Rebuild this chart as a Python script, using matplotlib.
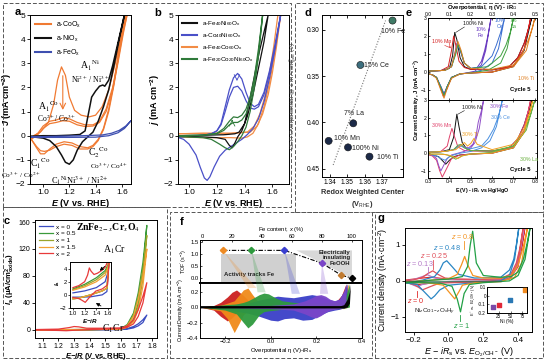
import matplotlib
matplotlib.use('Agg')
import matplotlib.pyplot as plt
from matplotlib.patches import Rectangle, Polygon

plt.rcParams['font.family'] = ['Liberation Sans', 'DejaVu Sans']
plt.rcParams['mathtext.fontset'] = 'custom'
plt.rcParams['mathtext.rm'] = 'Liberation Sans'
plt.rcParams['mathtext.it'] = 'Liberation Sans:italic'
plt.rcParams['mathtext.bf'] = 'Liberation Sans:bold:italic'
plt.rcParams['mathtext.sf'] = 'Liberation Sans:bold'
plt.rcParams['axes.linewidth'] = 0.7

# ---------------- Panel a data ----------------
a_co1_fE = [0.91, 0.98, 1.04, 1.08, 1.11, 1.14, 1.17, 1.20, 1.24, 1.29, 1.35, 1.40, 1.45, 1.50, 1.55, 1.59, 1.62]
a_co1_fj = [-0.05, 0.15, 0.55, 1.3, 2.3, 2.85, 2.5, 1.6, 1.05, 0.85, 0.78, 0.85, 1.2, 1.9, 3.0, 4.1, 5.0]
a_co2_fE = [0.91, 0.96, 1.0, 1.05, 1.10, 1.15, 1.20, 1.26, 1.32, 1.38, 1.43, 1.48, 1.53, 1.57, 1.61, 1.64]
a_co2_fj = [-0.1, 0.1, 0.4, 0.6, 0.65, 0.75, 0.7, 0.55, 0.45, 0.45, 0.6, 1.1, 2.0, 3.1, 4.3, 5.0]
a_co3_fj = [-0.15, 0.05, 0.3, 0.5, 0.55, 0.62, 0.6, 0.45, 0.38, 0.4, 0.55, 1.0, 1.9, 3.0, 4.2, 5.0]
a_co_rE = [1.63, 1.58, 1.54, 1.50, 1.46, 1.42, 1.38, 1.34, 1.28, 1.22, 1.16, 1.10, 1.05, 1.01, 0.98, 0.95, 0.91]
a_co1_rj = [5.0, 3.6, 2.2, 1.1, 0.3, -0.15, -0.4, -0.5, -0.45, -0.3, -0.25, -0.35, -0.55, -0.75, -0.75, -0.5, -0.15]
a_co2_rj = [5.0, 3.5, 2.1, 1.0, 0.25, -0.2, -0.45, -0.55, -0.55, -0.4, -0.35, -0.45, -0.6, -0.65, -0.62, -0.45, -0.15]
a_ni_fE = [0.91, 1.0, 1.1, 1.2, 1.28, 1.32, 1.345, 1.37, 1.40, 1.43, 1.455, 1.47, 1.50, 1.53, 1.56, 1.59, 1.62]
a_ni_fj = [-0.02, 0.0, 0.0, 0.02, 0.05, 0.2, 0.9, 1.6, 1.85, 2.05, 2.1, 2.05, 2.3, 2.9, 3.6, 4.3, 5.0]
a_ni_rE = [1.62, 1.58, 1.54, 1.50, 1.46, 1.42, 1.38, 1.34, 1.30, 1.26, 1.23, 1.20, 1.17, 1.14, 1.10, 1.05, 1.0, 0.91]
a_ni_rj = [5.0, 4.0, 2.9, 1.9, 1.2, 0.6, 0.15, -0.05, -0.25, -0.6, -1.0, -1.18, -1.1, -0.8, -0.45, -0.2, -0.1, -0.04]
a_fe_fE = [0.91, 1.1, 1.3, 1.45, 1.52, 1.58, 1.63, 1.67]
a_fe_fj = [-0.05, -0.02, 0.0, 0.03, 0.1, 0.22, 0.4, 0.62]
a_fe_rE = [1.67, 1.62, 1.57, 1.5, 1.4, 1.2, 1.0, 0.91]
a_fe_rj = [0.62, 0.3, 0.12, 0.0, -0.06, -0.07, -0.07, -0.06]

# ---------------- Panel b data ----------------
b_co_fE = [0.92, 1.0, 1.1, 1.16, 1.2, 1.23, 1.26, 1.29, 1.32, 1.35, 1.38, 1.41, 1.44, 1.47, 1.50, 1.54, 1.58, 1.62, 1.66]
b_co1_fj = [-0.05, -0.02, 0.02, 0.08, 0.2, 0.5, 1.2, 1.9, 2.4, 2.58, 2.35, 1.8, 1.35, 1.2, 1.3, 1.8, 2.7, 3.8, 5.0]
b_co2_fj = [-0.05, -0.02, 0.02, 0.08, 0.2, 0.45, 1.0, 1.6, 2.0, 2.05, 1.85, 1.45, 1.15, 1.1, 1.2, 1.7, 2.6, 3.7, 5.0]
b_co_rE = [1.66, 1.62, 1.58, 1.54, 1.50, 1.46, 1.42, 1.38, 1.34, 1.30, 1.26, 1.22, 1.18, 1.15, 1.13, 1.11, 1.08, 1.05, 1.0, 0.96, 0.92]
b_co_rj = [5.0, 3.6, 2.4, 1.4, 0.7, 0.3, 0.05, -0.15, -0.3, -0.45, -0.6, -0.85, -1.3, -1.7, -1.85, -1.75, -1.3, -0.8, -0.35, -0.15, -0.07]
b_feni_fE = [0.92, 1.1, 1.25, 1.33, 1.36, 1.40, 1.446, 1.475, 1.507, 1.54, 1.57]
b_feni_fj = [0.0, 0.02, 0.04, 0.08, 0.15, 0.5, 1.74, 2.6, 3.5, 4.3, 5.0]
b_feni_rE = [1.57, 1.54, 1.50, 1.46, 1.42, 1.38, 1.35, 1.33, 1.31, 1.29, 1.26, 1.2, 1.1, 0.92]
b_feni_rj = [5.0, 3.9, 2.8, 1.7, 0.8, 0.2, -0.05, -0.3, -0.5, -0.4, -0.15, -0.08, -0.05, -0.03]
b_feco1_fE = [0.92, 1.1, 1.3, 1.42, 1.47, 1.51, 1.55, 1.58, 1.61, 1.64]
b_feco2_fE = [0.92, 1.1, 1.3, 1.44, 1.49, 1.53, 1.57, 1.60, 1.63, 1.66]
b_feco_fj = [0.08, 0.1, 0.1, 0.15, 0.4, 0.9, 1.7, 2.6, 3.7, 5.0]
b_feco_rE = [1.66, 1.62, 1.58, 1.54, 1.50, 1.46, 1.42, 1.38, 1.3, 1.2, 1.1, 0.92]
b_feco_rj = [5.0, 3.5, 2.2, 1.2, 0.5, 0.1, -0.05, -0.1, -0.08, -0.08, -0.08, -0.05]
b_fcn_fE = [0.92, 1.1, 1.2, 1.25, 1.29, 1.32, 1.35, 1.38, 1.41, 1.44, 1.47, 1.50, 1.53]
b_fcn1_fj = [0.0, 0.02, 0.1, 0.3, 0.6, 0.78, 0.75, 0.85, 1.1, 1.6, 2.4, 3.6, 5.0]
b_fcn2_fj = [0.0, 0.02, 0.08, 0.22, 0.45, 0.55, 0.55, 0.65, 0.9, 1.4, 2.2, 3.4, 5.0]
b_fcn_rE = [1.53, 1.50, 1.47, 1.44, 1.41, 1.38, 1.35, 1.32, 1.29, 1.26, 1.22, 1.16, 1.1, 0.92]
b_fcn_rj = [5.0, 3.3, 2.0, 1.0, 0.35, 0.0, -0.25, -0.45, -0.58, -0.5, -0.35, -0.15, -0.08, -0.03]

# ---------------- Panel c data ----------------
c_labels = ['x = 0', 'x = 0.5', 'x = 1', 'x = 1.5', 'x = 2']
c_colors = ['#3b4cc0', '#3a9a3a', '#9aa42a', '#f3a033', '#e83a3a']
c_fE = [1.05, 1.3, 1.5, 1.6, 1.64, 1.68, 1.71, 1.74, 1.765]
c_rE = [1.765, 1.74, 1.71, 1.68, 1.64, 1.6, 1.4, 1.05]
c_x0_f = [0.3, 0.3, 0.5, 1.0, 2.0, 5.0, 9.0, 15.0, 22.0]
c_x0_r = [22.0, 11.0, 6.0, 3.0, 1.2, 0.5, 0.0, 0.0]
c_x05_f = [0.3, 0.5, 1.0, 2.0, 8.0, 25.0, 55.0, 100.0, 155.0]
c_x05_r = [155.0, 85.0, 40.0, 16.0, 5.0, 1.5, 0.3, 0.0]
c_x1_f = [0.3, 0.5, 1.0, 2.0, 7.0, 22.0, 50.0, 90.0, 140.0]
c_x1_r = [140.0, 75.0, 35.0, 14.0, 4.0, 1.2, 0.3, 0.0]
c_x15_f = [0.3, 0.5, 1.0, 2.0, 6.0, 20.0, 45.0, 80.0, 120.0]
c_x15_r = [120.0, 65.0, 30.0, 12.0, 4.0, 1.2, 0.3, 0.0]
c_x2_fE = [1.05, 1.2, 1.27, 1.3, 1.33, 1.38, 1.5, 1.6, 1.64, 1.68, 1.71, 1.74, 1.765]
c_x2_f = [0.5, 1.2, 3.5, 5.0, 4.5, 2.5, 2.5, 3.0, 6.0, 15.0, 30.0, 50.0, 70.0]
c_x2_rE = [1.765, 1.74, 1.71, 1.68, 1.64, 1.6, 1.4, 1.3, 1.25, 1.2, 1.05]
c_x2_r = [70.0, 40.0, 20.0, 9.0, 4.0, 2.0, 0.5, -0.5, -1.2, -0.8, 0.0]
# inset
ci_red_fE = [1.0, 1.1, 1.2, 1.25, 1.28, 1.31, 1.36, 1.42, 1.49, 1.55, 1.59, 1.62]
ci_red_fI = [1.1, 1.4, 2.0, 3.0, 4.1, 3.6, 3.1, 3.3, 3.7, 4.2, 5.0, 5.5]
ci_red_rE = [1.62, 1.59, 1.5, 1.39, 1.29, 1.21, 1.15, 1.10, 1.0]
ci_red_rI = [5.5, 1.5, 0.9, 0.57, -0.3, -1.14, -0.8, -0.57, -0.4]
ci_oth_fE = [1.0, 1.2, 1.4, 1.55, 1.6, 1.62]
ci_grn_fI = [0.9, 1.6, 2.6, 3.7, 4.6, 5.5]
ci_olv_fI = [0.8, 1.4, 2.3, 3.4, 4.4, 5.5]
ci_org_fI = [0.7, 1.2, 2.0, 3.0, 4.2, 5.5]
ci_blu_fI = [0.3, 0.6, 1.1, 2.0, 3.5, 5.5]
ci_oth_rE = [1.62, 1.58, 1.5, 1.3, 1.1, 1.0]
ci_grn_rI = [5.5, 1.0, 0.6, 0.0, -0.5, -0.6]
ci_blu_rI = [5.5, 0.5, 0.0, -0.3, -0.35, -0.35]

# ---------------- Panel d data ----------------
d_labels = ['10% Fe', '15% Ce', '7% La', '10% Mn', '100% Ni', '10% Ti']
d_redox = [1.376, 1.3576, 1.3535, 1.3394, 1.3505, 1.3628]
d_eta = [0.290, 0.338, 0.401, 0.420, 0.427, 0.437]
d_colors = ['#3f7a66', '#3c6e7e', '#1c2a48', '#1c2a48', '#1c2a48', '#1c2a48']
d_trend_x = [1.342, 1.372]
d_trend_y = [0.446, 0.29]

# ---------------- Panel e data (E vs Hg/HgO) ----------------
e_top_names = ['100% Ni', '10% Mn', '10% Fe', '10% Ce', '7% La', '10% Ti']
e_top_colors = ['#111111', '#d42020', '#6a3cc0', '#3a6ed0', '#3fa03f', '#e07f20']
e_top_fE = [
    [0.30, 0.36, 0.40, 0.415, 0.425, 0.435, 0.45, 0.47, 0.50, 0.60, 0.68, 0.72, 0.75, 0.77, 0.785],
    [0.30, 0.36, 0.395, 0.41, 0.42, 0.43, 0.445, 0.47, 0.50, 0.60, 0.68, 0.72, 0.75, 0.77, 0.78],
    [0.30, 0.38, 0.41, 0.425, 0.435, 0.45, 0.47, 0.50, 0.53, 0.55, 0.565, 0.58, 0.595],
    [0.30, 0.38, 0.41, 0.425, 0.44, 0.455, 0.47, 0.50, 0.55, 0.60, 0.62, 0.64, 0.658],
    [0.30, 0.38, 0.41, 0.43, 0.44, 0.455, 0.47, 0.50, 0.58, 0.64, 0.665, 0.685, 0.70],
    [0.30, 0.38, 0.41, 0.425, 0.44, 0.455, 0.47, 0.50, 0.60, 0.70, 0.74, 0.77, 0.79, 0.80],
]
e_top_fj = [
    [0.05, 0.08, 0.2, 0.9, 2.2, 1.8, 0.8, 0.3, 0.15, 0.12, 0.3, 0.8, 1.6, 2.4, 3.0],
    [0.05, 0.08, 0.3, 1.2, 2.0, 1.5, 0.6, 0.25, 0.15, 0.12, 0.3, 0.8, 1.6, 2.4, 3.0],
    [0.05, 0.1, 0.3, 1.0, 1.6, 1.2, 0.5, 0.2, 0.25, 0.6, 1.2, 2.0, 3.0],
    [0.05, 0.1, 0.3, 0.9, 1.5, 1.1, 0.5, 0.2, 0.3, 0.9, 1.5, 2.2, 3.0],
    [0.05, 0.1, 0.3, 1.0, 1.55, 1.1, 0.5, 0.2, 0.3, 0.9, 1.5, 2.2, 3.0],
    [0.05, 0.1, 0.3, 1.0, 1.7, 1.2, 0.5, 0.2, 0.15, 0.4, 1.0, 1.8, 2.5, 3.0],
]
e_top_rE = [
    [0.785, 0.75, 0.70, 0.60, 0.50, 0.45, 0.41, 0.39, 0.375, 0.36, 0.34, 0.32, 0.30],
    [0.78, 0.75, 0.70, 0.60, 0.50, 0.45, 0.41, 0.39, 0.372, 0.36, 0.34, 0.32, 0.30],
    [0.595, 0.57, 0.55, 0.52, 0.48, 0.45, 0.41, 0.39, 0.375, 0.36, 0.34, 0.32, 0.30],
    [0.658, 0.63, 0.60, 0.55, 0.50, 0.45, 0.41, 0.39, 0.375, 0.36, 0.34, 0.32, 0.30],
    [0.70, 0.67, 0.64, 0.58, 0.50, 0.45, 0.41, 0.39, 0.375, 0.36, 0.34, 0.32, 0.30],
    [0.80, 0.76, 0.70, 0.60, 0.50, 0.45, 0.41, 0.39, 0.375, 0.36, 0.34, 0.32, 0.30],
]
e_top_rj = [
    [3.0, 1.2, 0.3, 0.0, -0.05, -0.1, -0.3, -0.8, -1.3, -0.9, -0.3, -0.15, -0.1],
    [3.0, 1.3, 0.35, 0.0, -0.05, -0.1, -0.3, -0.9, -1.35, -0.9, -0.3, -0.15, -0.1],
    [3.0, 1.2, 0.4, 0.05, -0.05, -0.1, -0.3, -0.8, -1.2, -0.8, -0.3, -0.15, -0.1],
    [3.0, 1.3, 0.5, 0.1, -0.05, -0.1, -0.3, -0.8, -1.25, -0.8, -0.3, -0.15, -0.1],
    [3.0, 1.3, 0.5, 0.1, -0.05, -0.1, -0.3, -0.8, -1.3, -0.85, -0.3, -0.15, -0.1],
    [3.0, 1.2, 0.3, 0.0, -0.05, -0.1, -0.35, -0.9, -1.45, -1.0, -0.35, -0.15, -0.1],
]
e_bot_names = ['100% Ni', '30% Mn', '30% Fe', '30% Ce', '30% La', '30% Ti']
e_bot_colors = ['#111111', '#e0406a', '#9050c8', '#4a90e0', '#6ab040', '#f0a020']
e_bot_fE = [
    [0.30, 0.36, 0.40, 0.42, 0.435, 0.445, 0.46, 0.48, 0.50, 0.60, 0.68, 0.72, 0.75, 0.77, 0.785],
    [0.30, 0.36, 0.39, 0.40, 0.412, 0.425, 0.44, 0.47, 0.50, 0.60, 0.68, 0.72, 0.75, 0.77, 0.78],
    [0.30, 0.38, 0.42, 0.44, 0.455, 0.47, 0.49, 0.51, 0.525, 0.535, 0.55, 0.56],
    [0.30, 0.38, 0.42, 0.44, 0.455, 0.47, 0.50, 0.55, 0.58, 0.607, 0.63, 0.648],
    [0.30, 0.38, 0.42, 0.44, 0.455, 0.47, 0.50, 0.60, 0.70, 0.75, 0.78, 0.80],
    [0.30, 0.38, 0.43, 0.45, 0.47, 0.485, 0.50, 0.515, 0.53, 0.60, 0.70, 0.75, 0.78, 0.79],
]
e_bot_fj = [
    [0.05, 0.08, 0.2, 0.9, 2.2, 1.5, 0.6, 0.25, 0.15, 0.12, 0.3, 0.8, 1.6, 2.4, 3.0],
    [0.05, 0.1, 0.4, 0.9, 1.4, 0.9, 0.35, 0.15, 0.12, 0.12, 0.3, 0.8, 1.6, 2.4, 3.0],
    [0.05, 0.1, 0.2, 0.4, 0.45, 0.35, 0.3, 0.5, 1.0, 1.74, 2.4, 3.0],
    [0.05, 0.1, 0.2, 0.35, 0.4, 0.3, 0.25, 0.4, 0.8, 1.36, 2.1, 3.0],
    [0.05, 0.1, 0.2, 0.45, 0.5, 0.3, 0.15, 0.12, 0.4, 1.2, 2.2, 3.0],
    [0.05, 0.1, 0.2, 0.4, 0.6, 0.4, 0.55, 0.83, 0.5, 0.2, 0.5, 1.4, 2.4, 3.0],
]
e_bot_rE = [
    [0.785, 0.75, 0.70, 0.60, 0.50, 0.45, 0.42, 0.40, 0.383, 0.37, 0.35, 0.32, 0.30],
    [0.78, 0.75, 0.70, 0.60, 0.50, 0.45, 0.41, 0.39, 0.367, 0.355, 0.34, 0.32, 0.30],
    [0.56, 0.54, 0.52, 0.50, 0.47, 0.44, 0.41, 0.39, 0.36, 0.35, 0.34, 0.32, 0.30],
    [0.648, 0.62, 0.59, 0.55, 0.50, 0.45, 0.42, 0.40, 0.38, 0.36, 0.34, 0.32, 0.30],
    [0.80, 0.76, 0.70, 0.60, 0.50, 0.46, 0.43, 0.41, 0.39, 0.37, 0.35, 0.32, 0.30],
    [0.79, 0.75, 0.70, 0.60, 0.50, 0.46, 0.44, 0.42, 0.40, 0.38, 0.35, 0.32, 0.30],
]
e_bot_rj = [
    [3.0, 1.2, 0.3, 0.0, -0.05, -0.1, -0.2, -0.4, -0.62, -0.45, -0.2, -0.1, -0.05],
    [3.0, 1.3, 0.35, 0.0, -0.05, -0.1, -0.3, -0.8, -1.35, -1.0, -0.4, -0.15, -0.1],
    [3.0, 1.4, 0.6, 0.3, 0.1, 0.0, -0.1, -0.3, -1.0, -0.7, -0.3, -0.1, -0.05],
    [3.0, 1.5, 0.7, 0.3, 0.1, 0.0, -0.1, -0.2, -0.4, -0.3, -0.15, -0.1, -0.05],
    [3.0, 1.3, 0.4, 0.05, -0.05, -0.15, -0.34, -0.2, -0.1, -0.05, -0.05, -0.05, -0.05],
    [3.0, 1.2, 0.3, 0.0, -0.05, -0.15, -0.3, -0.2, -0.12, -0.08, -0.05, -0.05, -0.05],
]

# ---------------- Panel f data ----------------
f_fe = [14, 33, 55, 80, 93, 100]
f_tof = [1.15, 1.15, 1.15, 0.62, 0.12, 0.0]
f_colors = ['#ee8a22', '#2e9a3e', '#3a3fd0', '#7a45c8', '#c07a30', '#000000']
f_ray_eta = [-0.08, -0.04, 0.11, 0.234]
f_ray_j = [0.245, 0.19, 0.17, 0.17]
f_shapes = [
    ('#cc1f1f',
     [-0.31, -0.25, -0.22, -0.19, -0.17, -0.15, -0.12, -0.09, -0.05, 0.0, 0.1, 0.2, 0.28, 0.31, 0.33],
     [0.0, 0.02, 0.06, 0.13, 0.19, 0.22, 0.15, 0.06, 0.03, 0.02, 0.02, 0.03, 0.05, 0.15, 0.3],
     [0.0, -0.04, -0.12, -0.18, -0.14, -0.08, -0.04, -0.03, -0.02, -0.02, -0.02, -0.02, -0.02, -0.02, 0.0]),
    ('#f08a1a',
     [-0.31, -0.22, -0.19, -0.16, -0.14, -0.12, -0.10, -0.08, -0.05, 0.0, 0.1, 0.2, 0.29, 0.32, 0.34],
     [0.0, 0.02, 0.05, 0.08, 0.15, 0.22, 0.245, 0.16, 0.05, 0.03, 0.03, 0.03, 0.05, 0.15, 0.3],
     [0.0, -0.05, -0.15, -0.33, -0.22, -0.1, -0.05, -0.04, -0.03, -0.02, -0.02, -0.02, -0.02, -0.02, 0.0]),
    ('#3a3fc8',
     [-0.31, -0.2, -0.1, -0.05, 0.0, 0.03, 0.06, 0.1, 0.14, 0.18, 0.22, 0.25, 0.28, 0.3, 0.32, 0.335],
     [0.0, 0.02, 0.05, 0.09, 0.12, 0.14, 0.13, 0.12, 0.14, 0.16, 0.14, 0.1, 0.08, 0.1, 0.2, 0.3],
     [0.0, -0.03, -0.08, -0.12, -0.17, -0.18, -0.15, -0.14, -0.17, -0.16, -0.1, -0.06, -0.04, -0.03, -0.01, 0.0]),
    ('#2e9a3e',
     [-0.31, -0.2, -0.15, -0.12, -0.1, -0.08, -0.05, -0.03, -0.01, 0.02, 0.05, 0.1, 0.2, 0.3, 0.33, 0.345],
     [0.0, 0.03, 0.04, 0.06, 0.08, 0.11, 0.16, 0.18, 0.17, 0.12, 0.08, 0.06, 0.05, 0.06, 0.15, 0.3],
     [0.0, -0.04, -0.09, -0.2, -0.27, -0.22, -0.1, -0.06, -0.05, -0.04, -0.03, -0.03, -0.03, -0.02, -0.01, 0.0]),
    ('#7a45c8',
     [-0.31, 0.0, 0.1, 0.15, 0.18, 0.2, 0.22, 0.24, 0.26, 0.28, 0.3, 0.32, 0.33],
     [0.0, 0.02, 0.04, 0.08, 0.12, 0.15, 0.16, 0.14, 0.1, 0.08, 0.1, 0.2, 0.3],
     [0.0, -0.02, -0.04, -0.09, -0.13, -0.14, -0.11, -0.07, -0.04, -0.03, -0.02, -0.01, 0.0]),
    ('#000000',
     [-0.31, 0.0, 0.3, 0.32, 0.335, 0.345, 0.35],
     [0.012, 0.012, 0.012, 0.03, 0.1, 0.2, 0.3],
     [-0.012, -0.012, -0.012, -0.012, 0.0, 0.05, 0.3]),
]

# ---------------- Panel g data ----------------
g_labels = ['z = 0', 'z = 0.13', 'z = 0.25', 'z = 0.48', 'z = 0.8', 'z = 1']
g_colors = ['#e02828', '#b57ac8', '#e0505a', '#2a86c4', '#f39320', '#22a045']
g_fx = [
    [-0.25, -0.15, -0.1, 0.0, 0.2, 0.3, 0.36, 0.39, 0.42, 0.44],
    [-0.25, -0.2, -0.15, -0.12, -0.09, -0.05, 0.05, 0.2, 0.3, 0.36, 0.39, 0.41, 0.435],
    [-0.25, -0.2, -0.15, -0.12, -0.09, -0.06, -0.02, 0.05, 0.2, 0.3, 0.36, 0.39, 0.41, 0.43],
    [-0.25, -0.15, -0.08, -0.05, -0.03, -0.01, 0.02, 0.06, 0.15, 0.3, 0.35, 0.375, 0.39, 0.405],
    [-0.25, -0.1, 0.0, 0.05, 0.075, 0.093, 0.11, 0.14, 0.2, 0.3, 0.36, 0.4, 0.43, 0.455],
    [-0.25, -0.1, 0.0, 0.08, 0.11, 0.125, 0.139, 0.16, 0.2, 0.3, 0.36, 0.40, 0.43, 0.45, 0.47],
]
g_fj = [
    [0.02, 0.08, 0.1, 0.05, 0.03, 0.05, 0.15, 0.4, 0.9, 1.5],
    [0.0, 0.04, 0.12, 0.17, 0.1, 0.05, 0.03, 0.03, 0.05, 0.18, 0.45, 0.85, 1.5],
    [0.0, 0.03, 0.1, 0.2, 0.28, 0.18, 0.08, 0.05, 0.04, 0.06, 0.2, 0.5, 0.9, 1.5],
    [-0.05, 0.02, 0.12, 0.3, 0.5, 0.56, 0.4, 0.18, 0.08, 0.1, 0.3, 0.6, 1.0, 1.5],
    [-0.03, 0.02, 0.06, 0.18, 0.45, 0.68, 0.45, 0.15, 0.08, 0.08, 0.15, 0.45, 0.95, 1.5],
    [-0.05, 0.02, 0.05, 0.12, 0.4, 1.0, 1.38, 0.5, 0.15, 0.1, 0.12, 0.25, 0.6, 1.0, 1.5],
]
g_rx = [
    [0.44, 0.40, 0.35, 0.2, 0.0, -0.1, -0.17, -0.25],
    [0.435, 0.40, 0.36, 0.3, 0.1, -0.1, -0.15, -0.18, -0.22, -0.25],
    [0.43, 0.40, 0.36, 0.3, 0.1, -0.05, -0.1, -0.15, -0.19, -0.25],
    [0.405, 0.38, 0.35, 0.3, 0.15, 0.0, -0.05, -0.08, -0.10, -0.13, -0.18, -0.25],
    [0.455, 0.42, 0.38, 0.3, 0.15, 0.08, 0.06, 0.036, 0.01, -0.03, -0.12, -0.25],
    [0.47, 0.44, 0.40, 0.35, 0.2, 0.12, 0.09, 0.069, 0.05, 0.02, -0.05, -0.15, -0.25],
]
g_rj = [
    [1.5, 0.4, 0.05, -0.02, -0.04, -0.06, -0.1, -0.05],
    [1.5, 0.45, 0.1, 0.0, -0.03, -0.05, -0.1, -0.16, -0.08, -0.03],
    [1.5, 0.5, 0.1, 0.0, -0.04, -0.06, -0.15, -0.25, -0.12, -0.03],
    [1.5, 0.6, 0.15, 0.0, -0.05, -0.12, -0.25, -0.42, -0.5, -0.35, -0.1, -0.05],
    [1.5, 0.5, 0.1, -0.02, -0.05, -0.12, -0.3, -0.5, -0.35, -0.12, -0.05, -0.03],
    [1.5, 0.6, 0.15, 0.0, -0.05, -0.1, -0.35, -0.86, -0.5, -0.15, -0.06, -0.05, -0.05],
]
g_ins_ni = [13, 25, 48, 80]
g_ins_e0 = [-0.13, -0.11, -0.05, 0.07]
g_ins_colors = ['#7a4aa8', '#e02838', '#2a78b4', '#f08a20']

# ================= Figure =================
W, H = 546, 361
fig = plt.figure(figsize=(W / 100, H / 100), dpi=100)


def add_ax(x0, y0, x1, y1):
    return fig.add_axes([x0 / W, 1 - y1 / H, (x1 - x0) / W, (y1 - y0) / H])


def ftext(x, y, s, **kw):
    fig.text(x / W, 1 - y / H, s, **kw)


def cv(ax, fx, fy, rx, ry, color, lw=0.9, **kw):
    ax.plot(list(fx) + list(rx), list(fy) + list(ry), color=color, lw=lw, **kw)


# dashed boxes
for (x0, y0, x1, y1) in [(3, 3, 291, 207), (295, 3, 543, 212), (3, 207, 167, 358),
                         (170, 212, 372, 358), (375, 212, 543, 358)]:
    fig.patches.append(Rectangle((x0 / W, 1 - y1 / H), (x1 - x0) / W, (y1 - y0) / H,
                                 transform=fig.transFigure, fill=False, ls=(0, (4, 2)),
                                 lw=0.7, ec='#555555'))

serif = dict(family='Liberation Serif', math_fontfamily='stix')

# ---------- a ----------
ax = add_ax(30, 15, 131, 184)
co = '#f07a32'
cv(ax, a_co1_fE, a_co1_fj, a_co_rE, a_co1_rj, co)
cv(ax, a_co2_fE, a_co2_fj, a_co_rE, a_co2_rj, co)
ax.plot(a_co2_fE, a_co3_fj, color=co, lw=0.9)
cv(ax, a_ni_fE, a_ni_fj, a_ni_rE, a_ni_rj, '#111111', lw=1.1)
cv(ax, a_fe_fE, a_fe_fj, a_fe_rE, a_fe_rj, '#3e4fb0')
ax.plot([], [], color=co, label=r'a-CoO$_\mathrm{x}$')
ax.plot([], [], color='#111111', label=r'a-NiO$_\mathrm{x}$')
ax.plot([], [], color='#3e4fb0', label=r'a-FeO$_\mathrm{x}$')
ax.legend(loc='upper left', frameon=False, fontsize=5, handlelength=2.3, labelspacing=0.55,
          borderaxespad=0.3)
ax.annotate('', xy=(1.15, 0.95), xytext=(1.15, 2.6),
            arrowprops=dict(arrowstyle='->', color=co, lw=0.8))
ax.set_xlim(0.9, 1.67)
ax.set_ylim(-2, 5)
ax.set_xticks([1.0, 1.2, 1.4, 1.6])
ax.set_yticks(range(-2, 6))
ax.tick_params(labelsize=6, length=2, width=0.6, pad=1.5)
ax.set_xlabel(r'$\mathbf{E}$ (V vs. RHE)', fontsize=6.5, fontweight='bold', labelpad=1)
ax.set_ylabel(r'$\mathbf{J}$ (mA $\mathsf{cm^{-2}}$)', fontsize=6.5, fontweight='bold', labelpad=1)
ax.text(1.36, 2.75, r'A$_1$$^{\rm Ni}$', fontsize=7, ha='center', **serif)
ax.text(1.36, 2.2, r'Ni$^{2+}$ / Ni$^{3+}$', fontsize=5.5, ha='center', **serif)
ax.text(1.04, 1.05, r'A$_1$$^{\rm Co}$', fontsize=7, ha='center', **serif)
ax.text(1.1, 0.55, r'Co$^{2+}$/ Co$^{3+}$', fontsize=5.5, ha='center', **serif)
ax.text(0.98, -1.3, r'C$_1$$^{\rm Co}$', fontsize=7, ha='center', **serif)
ax.text(0.83, -1.75, r'Co$^{3+}$ / Co$^{2+}$', fontsize=5.3, ha='center', clip_on=False, **serif)
ax.text(1.42, -0.85, r'C$_2$$^{\rm Co}$', fontsize=7, ha='center', **serif)
ax.text(1.5, -1.38, r'Co$^{3+}$/ Co$^{4+}$', fontsize=5.3, ha='center', **serif)
ax.text(1.28, -2.0, r'C$_1$$^{\rm Ni}$Ni$^{3+}$ / Ni$^{2+}$', fontsize=6, ha='center', **serif)

# ---------- b ----------
ax = add_ax(178, 15, 289, 184)
cv(ax, b_feco1_fE, b_feco_fj, b_feco_rE, b_feco_rj, '#f28c45')
ax.plot(b_feco2_fE, b_feco_fj, color='#f28c45', lw=0.9)
cv(ax, b_co_fE, b_co1_fj, b_co_rE, b_co_rj, '#4a50c8')
ax.plot(b_co_fE, b_co2_fj, color='#4a50c8', lw=0.9)
cv(ax, b_feni_fE, b_feni_fj, b_feni_rE, b_feni_rj, '#111111')
cv(ax, b_fcn_fE, b_fcn1_fj, b_fcn_rE, b_fcn_rj, '#2f7a3a')
ax.plot(b_fcn_fE, b_fcn2_fj, color='#2f7a3a', lw=0.9)
ax.plot([], [], color='#111111', label=r'a-Fe$_{40}$Ni$_{60}$O$_\mathrm{x}$')
ax.plot([], [], color='#4a50c8', label=r'a-Co$_{40}$Ni$_{60}$O$_\mathrm{x}$')
ax.plot([], [], color='#f28c45', label=r'a-Fe$_{40}$Co$_{60}$O$_\mathrm{x}$')
ax.plot([], [], color='#2f7a3a', label=r'a-Fe$_{20}$Co$_{20}$Ni$_{60}$O$_\mathrm{x}$')
ax.legend(loc='upper left', frameon=False, fontsize=4.6, handlelength=2.3, labelspacing=0.45,
          borderaxespad=0.3)
ax.annotate('', xy=(1.345, 2.15), xytext=(1.345, 2.5),
            arrowprops=dict(arrowstyle='->', color='#4a50c8', lw=0.6))
ax.annotate('', xy=(1.31, 0.78), xytext=(1.31, 0.5),
            arrowprops=dict(arrowstyle='->', color='#2f7a3a', lw=0.6))
ax.set_xlim(0.92, 1.72)
ax.set_ylim(-2, 5)
ax.set_xticks([1.0, 1.2, 1.4, 1.6])
ax.set_yticks(range(-2, 6))
ax.tick_params(labelsize=6, length=2, width=0.6, pad=1.5)
ax.set_xlabel(r'$\mathbf{E}$ (V vs. RHE)', fontsize=6.5, fontweight='bold', labelpad=1)
ax.set_ylabel(r'$\mathbf{j}$ (mA $\mathsf{cm^{-2}}$)', fontsize=6.5, fontweight='bold', labelpad=1)

# ---------- c ----------
ax = add_ax(35, 220, 157, 338)
c_f = [c_x0_f, c_x05_f, c_x1_f, c_x15_f]
c_r = [c_x0_r, c_x05_r, c_x1_r, c_x15_r]
for i in range(4):
    cv(ax, c_fE, c_f[i], c_rE, c_r[i], c_colors[i], label=c_labels[i])
cv(ax, c_x2_fE, c_x2_f, c_x2_rE, c_x2_r, c_colors[4], label=c_labels[4])
ax.legend(loc='upper left', frameon=False, fontsize=4.6, handlelength=2.2, labelspacing=0.2,
          borderaxespad=0.25, handletextpad=0.5)
ax.set_xlim(1.05, 1.83)
ax.set_ylim(-12, 163)
ax.set_xticks([1.1, 1.2, 1.3, 1.4, 1.5, 1.6, 1.7, 1.8])
ax.set_yticks([0, 40, 80, 120, 160])
ax.tick_params(labelsize=5, length=2, width=0.6, pad=1.5)
ax.set_xlabel(r'$\mathbf{E}$$\mathbf{-iR}$ (V vs. RHE)', fontsize=5.5, fontweight='bold', labelpad=1)
ax.set_ylabel(r'$\mathbf{I}_\mathsf{a}$ (μA/$\mathsf{cm^2_{oxide}}$)', fontsize=5.5, fontweight='bold',
              labelpad=1)
ax.text(1.72, 148, r'ZnFe$_{2-x}$Cr$_x$O$_4$', fontsize=7, fontweight='bold', ha='right', **serif)
ax.text(1.56, 115, r'A$_1$Cr', fontsize=7, ha='center', **serif)
ax.text(1.55, -2, r'C$_1$Cr', fontsize=7, ha='center', **serif)
axi = add_ax(70, 262, 111, 308)
cv(axi, ci_oth_fE, ci_blu_fI, ci_oth_rE, ci_blu_rI, c_colors[0])
cv(axi, ci_oth_fE, ci_grn_fI, ci_oth_rE, ci_grn_rI, c_colors[1])
cv(axi, ci_oth_fE, ci_olv_fI, ci_oth_rE, ci_grn_rI, c_colors[2])
cv(axi, ci_oth_fE, ci_org_fI, ci_oth_rE, ci_grn_rI, c_colors[3])
cv(axi, ci_red_fE, ci_red_fI, ci_red_rE, ci_red_rI, c_colors[4])
axi.set_xlim(0.95, 1.65)
axi.set_ylim(-2, 5)
axi.set_xticks([1.0, 1.2, 1.4, 1.6])
axi.set_yticks([-2, 0, 2, 4])
axi.tick_params(labelsize=4.2, length=1.5, width=0.5, pad=0.8)
axi.set_xlabel(r'$\mathbf{E}$$\mathbf{-iR}$', fontsize=4.5, fontweight='bold', labelpad=0.5)
axi.set_ylabel(r'$\mathbf{I}_\mathsf{a}$', fontsize=4.2, labelpad=0)
axi.yaxis.set_label_coords(-0.2, 0.55)
axi.annotate('', xy=(1.42, 3.4), xytext=(1.58, 4.6),
             arrowprops=dict(arrowstyle='-|>', color='k', lw=0.6, mutation_scale=5))
axi.annotate('', xy=(1.35, -1.05), xytext=(1.52, -1.9),
             arrowprops=dict(arrowstyle='-|>', color='k', lw=0.6, mutation_scale=5),
             annotation_clip=False)

# ---------- d ----------
ax = add_ax(322, 15, 403, 177)
ax.plot(d_trend_x, d_trend_y, ls=(0, (1, 1.5)), color='#777777', lw=0.8)
ax.scatter(d_redox, d_eta, s=26, c=d_colors, edgecolors='#111111', linewidths=0.4, zorder=3)
d_off = [(-0.0065, 0.012), (0.002, 0.001), (-0.0053, -0.011), (0.003, -0.003), (0.002, 0.001),
         (0.0042, 0.001)]
for lab, x, y, (dx, dy) in zip(d_labels, d_redox, d_eta, d_off):
    ax.text(x + dx, y + dy, lab, fontsize=5, va='center', ha='left', color='#222222')
ax.set_xlim(1.3356, 1.382)
ax.set_ylim(0.459, 0.284)
ax.set_xticks([1.34, 1.35, 1.36, 1.37])
ax.set_yticks([0.30, 0.35, 0.40, 0.45])
ax.set_yticklabels(['0.30', '0.35', '0.40', '0.45'])
ax.tick_params(labelsize=4.8, length=2, width=0.6, pad=1.5, direction='in', top=True, right=True)
ax.set_xlabel('Redox Weighted Center\n(V$_\\mathrm{RHE}$)', fontsize=5.3, fontweight='bold',
              color='#333333', labelpad=2, linespacing=1.4)
ax.set_ylabel(r'OER Overpotential @ 1 mA/cm$^2_\mathrm{geo}$ (V)', fontsize=4.6, color='#333333')
ax.yaxis.set_label_coords(-0.27, 0.5)

# ---------- e ----------
axt = add_ax(428, 18, 537, 100)
axb = add_ax(428, 100, 537, 178)
for i in range(6):
    cv(axt, e_top_fE[i], e_top_fj[i], e_top_rE[i], e_top_rj[i], e_top_colors[i], lw=0.7)
    cv(axb, e_bot_fE[i], e_bot_fj[i], e_bot_rE[i], e_bot_rj[i], e_bot_colors[i], lw=0.7)
for a_ in (axt, axb):
    a_.set_xlim(0.3, 0.81)
    a_.set_xticks([0.3, 0.4, 0.5, 0.6, 0.7, 0.8])
    a_.tick_params(labelsize=3.6, length=1.5, width=0.5, pad=1, direction='in', top=True, right=True)
    a_.set_yticks([-1, 0, 1, 2, 3])
axt.set_ylim(-1.55, 3.0)
axb.set_ylim(-1.4, 3.0)
axt.tick_params(labelbottom=False)
sec = axt.secondary_xaxis('top', functions=(lambda x: x - 0.3, lambda x: x + 0.3))
sec.set_xticks([0.0, 0.1, 0.2, 0.3, 0.4, 0.5])
sec.tick_params(labelsize=3.6, length=0, pad=0.8)
sec.set_xlabel(r'Overpotential, η (V) - iR$_\Omega$', fontsize=4.2, fontweight='bold', labelpad=2)
axb.set_xlabel(r'E (V) - iR$_\mathrm{u}$ vs Hg/HgO', fontsize=3.8, fontweight='bold', labelpad=1)
ftext(417, 100, r'Current Density, J (mA cm$^{-2}$)', fontsize=4.2, fontweight='bold', rotation=90,
      ha='center', va='center')
fs = 3.8
axt.text(0.465, 2.6, '100% Ni', fontsize=fs, color='#111111')
axt.plot([0.47, 0.43], [2.5, 2.2], color='#111111', lw=0.4)
axt.text(0.318, 1.6, '10% Mn', fontsize=fs, color='#d42020')
axt.annotate('', xy=(0.415, 1.2), xytext=(0.39, 1.55), arrowprops=dict(arrowstyle='->', lw=0.4,
                                                                        color='#d42020'))
axt.text(0.545, 1.95, '10%\nFe', fontsize=fs, color='#6a3cc0', ha='center', linespacing=1.3)
axt.text(0.635, 2.45, '10%\nCe', fontsize=fs, color='#3a6ed0', ha='center', linespacing=1.3)
axt.text(0.7, 2.45, '7%\nLa', fontsize=fs, color='#3fa03f', ha='center', linespacing=1.3)
axt.text(0.72, -0.45, '10% Ti', fontsize=fs, color='#e07f20')
axt.text(0.685, -1.05, 'Cycle 5', fontsize=4.2, fontweight='bold')
axb.text(0.46, 2.5, '100% Ni', fontsize=fs, color='#111111')
axb.plot([0.47, 0.44], [2.4, 2.2], color='#111111', lw=0.4)
axb.text(0.318, 1.45, '30% Mn', fontsize=fs, color='#e0406a')
axb.text(0.46, 0.95, '30% Ti', fontsize=fs, color='#f0a020')
axb.text(0.59, 2.55, '30% Fe', fontsize=fs, color='#9050c8')
axb.text(0.595, 1.95, '30% Ce', fontsize=fs, color='#4a90e0')
axb.text(0.73, -0.45, '30% La', fontsize=fs, color='#6ab040')
axb.text(0.685, -1.0, 'Cycle 5', fontsize=4.2, fontweight='bold')

# ---------- f ----------
aft = add_ax(200, 240, 362, 283)
afb = add_ax(200, 283, 362, 338)
aft.add_patch(Rectangle((13, -0.15), 50, 1.15, color='#d0d0d0', lw=0, zorder=0))
aft.add_patch(Polygon([(63, 1.15), (100, 1.15), (100, 0.0), (80, 0.62)], closed=True,
                      color='#d8d8d8', lw=0, zorder=0))
aft.plot(f_fe, f_tof, color='k', ls=(0, (4, 1.5, 1, 1.5)), lw=0.8, zorder=2)
for x, y, c in zip(f_fe, f_tof, f_colors):
    aft.plot([x], [y], marker='D', ms=3.2, color=c, zorder=3)
    aft.plot([x - 2, x + 2], [y, y], color=c, lw=0.6, zorder=3)
aft.text(15, 0.08, 'Activity tracks Fe', fontsize=4.3, fontweight='bold', color='#222222')
aft.text(99, 0.5, 'Electrically\ninsulating\nFeOOH', fontsize=4.3, fontweight='bold', ha='right',
         va='bottom', color='#222222', linespacing=1.15)
aft.set_xlim(-1.3, 106.7)
aft.set_ylim(-0.2, 1.58)
aft.xaxis.tick_top()
aft.xaxis.set_label_position('top')
aft.set_xticks([0, 20, 40, 60, 80, 100])
aft.set_yticks([0.0, 0.5, 1.0, 1.5])
aft.tick_params(labelsize=4.2, length=1.5, width=0.5, pad=0.8, direction='in')
aft.set_xlabel(r'Fe content, $x$ (%)', fontsize=4.2, labelpad=2)
aft.set_ylabel(r'TOF$^{\prime}$ (s$^{-1}$)', fontsize=3.8, labelpad=1)
aft.spines['bottom'].set_linewidth(1.4)
for col, xs, up, lo in f_shapes:
    afb.fill_between(xs, lo, up, color=col, lw=0, alpha=0.95)
afb.plot([-0.31, 0.32], [0, 0], color='k', lw=1.2)
afb.set_xlim(-0.31, 0.40)
afb.set_ylim(-0.4, 0.31)
afb.set_xticks([-0.2, 0.0, 0.2, 0.4])
afb.set_yticks([-0.4, -0.2, 0.0, 0.2])
afb.tick_params(labelsize=4.2, length=1.5, width=0.5, pad=1, direction='in')
afb.set_xlabel(r'Overpotential η (V)-iR$_\mathrm{u}$', fontsize=4.3, labelpad=1)
afb.set_ylabel(r'Current Density (mA cm$^{-2}$)', fontsize=3.8, labelpad=1)
afb.spines['top'].set_linewidth(1.4)
inv = fig.transFigure.inverted()
for i in range(4):
    ap = inv.transform(aft.transData.transform((f_fe[i], f_tof[i])))
    b1 = inv.transform(afb.transData.transform((f_ray_eta[i] - 0.018, f_ray_j[i])))
    b2 = inv.transform(afb.transData.transform((f_ray_eta[i] + 0.018, f_ray_j[i])))
    fig.patches.append(Polygon([ap, b1, b2], closed=True, transform=fig.transFigure,
                               color=f_colors[i], alpha=0.25, lw=0, zorder=1))

# ---------- g ----------
ax = add_ax(405, 228, 532, 332)
for i in range(6):
    cv(ax, g_fx[i], g_fj[i], g_rx[i], g_rj[i], g_colors[i], lw=0.9)
ax.plot([-0.25, 0.3], [0.0, 0.0], color='#2a6a4a', lw=1.0, alpha=0.7)
g_lab_pos = [(-0.19, -0.62), (-0.165, 0.42), (-0.085, 0.64), (-0.01, 0.86), (0.08, 1.17), (0.075, -1.3)]
for (x, y), s, c in zip(g_lab_pos, g_labels, g_colors):
    ax.text(x, y, s.replace('z', '$z$'), fontsize=5.2, color=c, ha='center')
ax.plot([-0.12, -0.12], [0.22, 0.38], color=g_colors[1], lw=0.6)
ax.plot([-0.09, -0.09], [0.33, 0.58], color=g_colors[2], lw=0.6)
ax.plot([0.09, 0.09], [0.9, 1.1], color=g_colors[4], lw=0.6)
ax.plot([-0.18, -0.18], [-0.28, -0.45], color=g_colors[0], lw=0.6)
ax.plot([0.069, 0.069], [-0.95, -1.12], color=g_colors[5], lw=0.6)
ax.text(-0.2, -0.9, r'Ni$_z$Co$_{1-z}$O$_x$H$_y$', fontsize=4.5, color='#222222')
ax.set_xlim(-0.25, 0.48)
ax.set_ylim(-1.42, 1.47)
ax.set_xticks([-0.2, 0.0, 0.2, 0.4])
ax.set_yticks([-1, 0, 1])
ax.tick_params(labelsize=5.8, length=2, width=0.6, pad=1.5)
ax.set_xlabel(r'$E$ − $iR_\mathrm{s}$ vs. $E_{\mathrm{O_2/OH^-}}$ (V)', fontsize=6.5, labelpad=1)
ax.set_ylabel(r'Current density (mA·cm$^{-2}$)', fontsize=6.3, labelpad=1)
axg = add_ax(487, 287, 527, 313)
axg.scatter(g_ins_ni, g_ins_e0, marker='s', s=9, c=g_ins_colors, zorder=3)
axg.set_xlim(0, 85)
axg.set_ylim(-0.2, 0.1)
axg.set_xticks([25, 50, 75])
axg.set_yticks([-0.2, -0.1, 0.0, 0.1])
axg.set_yticklabels(['-0.2', '-0.1', '0', '0.1'])
axg.tick_params(labelsize=3.3, length=1.2, width=0.4, pad=0.8, direction='in')
axg.set_xlabel('Ni (%)', fontsize=3.5, labelpad=0)
axg.set_ylabel(r'E$^\circ$ vs. E$_{O_2/OH^-}$ (V)', fontsize=2.8, labelpad=0)

# panel letters
for s, x, y in [('a', 18, 12), ('b', 158, 13), ('d', 308, 13), ('e', 409, 13), ('c', 7, 221),
                ('f', 182, 222), ('g', 381, 218)]:
    ftext(x, y, s, fontsize=8, fontweight='bold', va='center', ha='center')

fig.savefig('out.png', dpi=100)
